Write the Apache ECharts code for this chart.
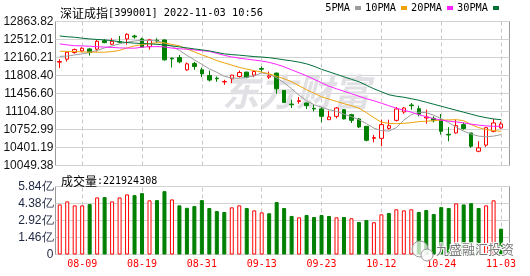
<!DOCTYPE html>
<html><head><meta charset="utf-8">
<script src="https://cdn.jsdelivr.net/npm/echarts@6/dist/echarts.min.js"></script>
<style>html,body{margin:0;padding:0;background:#fff}#c{width:530px;height:276px}</style>
</head><body><div id="c"></div>
<script>
const titleName = '深证成指';
const titleCode = '[399001]';
const titleTime = '2022-11-03 10:56';
const volLabel = '成交量';

const dates = ['08-04','08-05','08-08','08-09','08-10','08-11','08-12','08-15','08-16','08-17',
  '08-18','08-19','08-22','08-23','08-24','08-25','08-26','08-29','08-30','08-31',
  '09-01','09-02','09-05','09-06','09-07','09-08','09-09','09-13','09-14','09-15',
  '09-16','09-19','09-20','09-21','09-22','09-23','09-26','09-27','09-28','09-29',
  '09-30','10-10','10-11','10-12','10-13','10-14','10-17','10-18','10-19','10-20',
  '10-21','10-24','10-25','10-26','10-27','10-28','10-31','11-01','11-02','11-03'];

const labelDates = ['08-09','08-19','08-31','09-13','09-23','10-12','10-24','11-03'];

// [open, close, low, high]
const candles = [
  [12070,12080,11952,12127],[12127,12264,12081,12276],[12256,12315,12237,12334],[12289,12341,12264,12361],
  [12328,12256,12198,12348],[12322,12478,12276,12503],[12490,12451,12439,12517],[12420,12478,12406,12537],
  [12470,12460,12440,12581],[12523,12614,12412,12634],[12581,12562,12529,12606],[12523,12361,12354,12548],
  [12373,12503,12315,12523],[12497,12484,12451,12537],[12503,12114,12100,12517],[12147,12133,11964,12160],
  [12160,12075,12049,12211],[11919,12036,11900,12061],[12042,11983,11919,12075],[11919,11841,11777,11964],
  [11808,11719,11691,11906],[11757,11744,11685,11789],[11682,11691,11627,11724],[11744,11816,11660,11822],
  [11789,11867,11769,11906],[11874,11776,11757,11886],[11816,11886,11776,11906],[11944,11932,11880,11983],
  [11776,11800,11738,11886],[11855,11549,11452,11867],[11516,11282,11270,11524],[11251,11237,11173,11335],
  [11302,11315,11257,11387],[11270,11218,11154,11282],[11166,11154,11107,11237],[11154,11010,10893,11193],
  [10945,10998,10945,11120],[11010,11173,10971,11193],[11140,10960,10950,11154],[11043,10932,10881,11062],
  [10959,10803,10783,10978],[10815,10542,10523,10815],[10581,10595,10503,10647],[10581,10848,10425,10945],
  [10776,10828,10750,10945],[10932,11154,10912,11193],[11095,11173,11062,11193],[11232,11218,11140,11270],
  [11159,11053,11010,11218],[10978,10998,10867,11140],[10971,10926,10893,11010],[10945,10718,10653,11056],
  [10659,10647,10523,10800],[10686,10828,10673,10945],[10848,10770,10750,10893],[10686,10425,10394,10686],
  [10328,10394,10308,10523],[10448,10789,10413,10789],[10717,10881,10698,10959],[10784,10862,10770,10906]
];

const ma5 = [12182,12188,12211,12231,12260,12299,12348,12387,12426,12459,
  12484,12494,12494,12484,12445,12377,12299,12202,12114,12027,
  11939,11871,11793,11758,11754,11773,11802,11861,11832,11763,
  11666,11549,11423,11315,11237,11189,11140,11107,11052,11004,
  10945,10868,10780,10731,10721,10790,10936,11043,11091,11082,
  11033,10965,10887,10799,10721,10663,10624,10610,10624,10653];
const ma10 = [12283,12279,12276,12270,12266,12264,12264,12276,12299,12348,
  12387,12412,12432,12449,12445,12416,12387,12328,12270,12211,
  12159,12100,12055,12011,11968,11933,11904,11875,11841,11793,
  11744,11686,11608,11530,11461,11393,11345,11302,11257,11218,
  11169,11082,10984,10897,10873,10867,10873,10887,10907,10916,
  10926,10936,10941,10945,10926,10848,10790,10751,10731,10718];
const ma20 = [12426,12406,12391,12387,12381,12371,12363,12357,12348,12344,
  12342,12362,12371,12373,12367,12344,12332,12322,12309,12293,
  12280,12241,12202,12172,12147,12128,12110,12091,12065,12026,
  11978,11919,11861,11802,11734,11666,11598,11549,11500,11452,
  11403,11354,11315,11267,11218,11169,11130,11091,11043,11004,
  10965,10936,10916,10901,10881,10858,10838,10823,10815,10815];
const ma30 = [12581,12565,12556,12538,12523,12513,12504,12490,12468,12453,
  12441,12433,12426,12418,12406,12387,12367,12348,12328,12309,
  12289,12260,12231,12217,12206,12192,12178,12169,12157,12137,
  12114,12095,12069,12036,11988,11929,11881,11832,11783,11734,
  11686,11617,11549,11491,11432,11403,11384,11354,11325,11286,
  11247,11208,11169,11130,11091,11052,11014,10984,10959,10945];

// volume in 亿
const volumes = [4.30,4.56,4.22,4.22,4.33,4.90,4.93,4.56,4.90,5.16,
  5.10,5.27,4.65,4.67,5.44,4.73,4.22,4.01,4.16,4.67,
  3.99,3.73,3.65,4.05,4.22,3.99,3.79,3.62,3.54,4.50,
  3.99,3.31,3.19,3.39,3.22,3.39,3.31,3.19,3.22,3.11,
  2.79,2.96,2.77,3.45,3.56,3.88,3.79,3.88,3.65,3.82,
  3.48,4.07,3.99,4.39,4.30,4.41,3.99,4.22,4.65,2.21924308];
const volUp = [1,1,1,1,0,1,0,1,1,1, 0,0,1,0,0,1,0,0,0,0, 0,0,0,1,1,0,1,1,0,0,
  0,0,1,0,0,0,0,1,0,1, 0,0,1,1,0,1,1,1,0,0, 0,0,0,1,0,0,0,1,1,0];

const priceTicks = ['10049.38','10401.19','10752.99','11104.80','11456.60','11808.40','12160.21','12512.01','12863.82'];
const volTicks = ['0','1.46亿','2.92亿','4.38亿','5.84亿'];

const maNames = ['5PMA','10PMA','20PMA','30PMA'];
const maColors = ['#9c9c9c','#f0a30a','#ff22ff','#00703a'];
const maData = [ma5, ma10, ma20, ma30];

const UP = '#ff0000', DOWN = '#008000';
const showDate = (i, v) => labelDates.indexOf(v) >= 0;
const mono = 'DejaVu Sans Mono';
const cjk = 'Noto Sans CJK SC';

const chart = echarts.init(document.getElementById('c'), null, {renderer: 'canvas'});
const frameY = (gi, ticks, color) => ({
  gridIndex: gi, type: 'category', data: ticks, boundaryGap: false,
  axisLine: {show: false}, axisTick: {show: false},
  axisLabel: {interval: 0, color: color, fontFamily: 'Liberation Sans', fontSize: 12, margin: 2},
  splitLine: {show: true, lineStyle: {color: '#d2d2d2', width: 1}}
});
const dataX = (gi, len, showLabel) => ({
  gridIndex: gi, type: 'category', data: dates, boundaryGap: true,
  axisLine: {show: false},
  axisLabel: {show: showLabel, interval: showDate, color: UP, fontFamily: mono, fontSize: 10, margin: 5},
  axisTick: {show: true, inside: true, length: len, alignWithLabel: true, interval: showDate,
    lineStyle: {color: '#c8c8c8', width: 1, type: [4, 3]}},
  splitLine: {show: false}
});
const richStyle = (monoSize) => ({
  fontWeight: 'normal',
  rich: {c: {fontFamily: cjk, fontSize: 12, fontWeight: 'normal', color: '#000', lineHeight: 14},
         m: {fontFamily: mono, fontSize: monoSize, fontWeight: 'normal', color: '#000', lineHeight: 14}}
});

chart.setOption({
  animation: false,
  backgroundColor: '#fff',
  title: [
    {left: 55, top: 1, text: '{c|' + titleName + '}{m|' + titleCode + ' ' + titleTime + '}',
     textStyle: richStyle(10.3)},
    {left: 56, top: 169, text: '{c|' + volLabel + '}{m|:' + (volumes[volumes.length - 1] * 1e8).toFixed(0) + '}',
     textStyle: richStyle(10)}
  ],
  legend: {
    data: maNames, right: 31, top: 3, align: 'right', icon: 'rect', itemWidth: 6, itemHeight: 4,
    itemGap: 4, selectedMode: false, padding: 0,
    textStyle: {fontFamily: mono, fontSize: 10.3, color: '#000'}
  },
  grid: [
    {left: 55.5, top: 21.5, width: 454, height: 144, show: true, borderColor: '#999', borderWidth: 1, backgroundColor: 'transparent'},
    {left: 56, top: 21.5, width: 448.8, height: 144},
    {left: 55.5, top: 186.5, width: 454, height: 68, show: true, borderColor: '#999', borderWidth: 1, backgroundColor: 'transparent'},
    {left: 56, top: 186.5, width: 448.8, height: 68}
  ],
  xAxis: [
    {gridIndex: 0, type: 'value', show: false},
    dataX(1, 144, false),
    {gridIndex: 2, type: 'value', show: false},
    dataX(3, 68, true)
  ],
  yAxis: [
    frameY(0, priceTicks, '#111'),
    {gridIndex: 1, type: 'value', min: parseFloat(priceTicks[0]), max: parseFloat(priceTicks[priceTicks.length - 1]), show: false},
    frameY(2, volTicks, '#1d2640'),
    {gridIndex: 3, type: 'value', min: 0, max: parseFloat(volTicks[volTicks.length - 1]), show: false}
  ],
  graphic: [
    {type: 'text', left: 222, top: 73, z: 1, silent: true,
     style: {text: '东方财富', font: 'italic bold 37px "Noto Sans CJK SC"', fill: '#e1e1e5'}},
    {type: 'circle', shape: {cx: 420, cy: 249, r: 8}, z: 100, silent: true,
     style: {fill: 'rgba(255,255,255,0.7)', stroke: '#9a9a9a', lineWidth: 1}},
    {type: 'circle', shape: {cx: 427, cy: 255, r: 6}, z: 100, silent: true,
     style: {fill: 'rgba(255,255,255,0.8)', stroke: '#9a9a9a', lineWidth: 1}},
    {type: 'text', left: 435, top: 242, z: 100, silent: true,
     style: {text: '九盛融汇投资', font: '13px "Noto Sans CJK SC"', fill: 'rgba(105,105,105,0.9)', stroke: '#fff', lineWidth: 2}}
  ],
  series: [
    {type: 'candlestick', xAxisIndex: 1, yAxisIndex: 1, data: candles, barWidth: 4,
     itemStyle: {color: '#fff', color0: DOWN, borderColor: UP, borderColor0: DOWN, borderWidth: 1}},
    ...maNames.map((n, k) => ({
      type: 'line', name: n, xAxisIndex: 1, yAxisIndex: 1, data: maData[k], symbol: 'none',
      showSymbol: false, color: maColors[k], lineStyle: {width: 1, color: maColors[k]}, z: 3
    })),
    {type: 'bar', xAxisIndex: 3, yAxisIndex: 3, barWidth: 4,
     data: volumes.map((v, i) => ({value: v, itemStyle: volUp[i]
       ? {color: '#fff', borderColor: UP, borderWidth: 1}
       : {color: DOWN, borderColor: DOWN, borderWidth: 1}}))}
  ]
});
</script></body></html>
